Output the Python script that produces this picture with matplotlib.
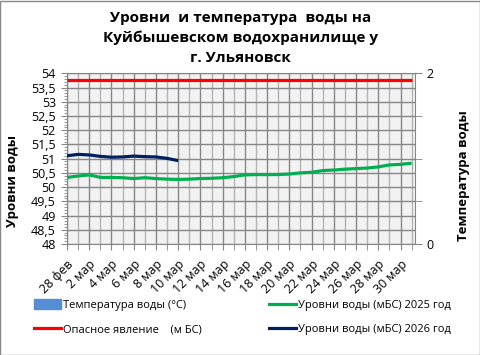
import numpy as np
import matplotlib
matplotlib.use('Agg')
import matplotlib.pyplot as plt
import matplotlib.ticker as ticker
from matplotlib.patches import Patch, Rectangle
from matplotlib.lines import Line2D

plt.rcParams['font.family'] = ['Open Sans', 'DejaVu Sans']

# categories: 28 фев .. 31 мар
days = ['28 фев'] + [f'{d} мар' for d in range(1, 32)]

# levels (m BS)
level_2025 = [50.34, 50.39, 50.43, 50.34, 50.34, 50.33, 50.30, 50.33, 50.30, 50.28,
              50.27, 50.28, 50.30, 50.31, 50.33, 50.37, 50.43, 50.44, 50.44, 50.44,
              50.46, 50.50, 50.52, 50.58, 50.60, 50.63, 50.65, 50.67, 50.71, 50.78,
              50.80, 50.84]
level_2026 = [51.10, 51.15, 51.13, 51.08, 51.05, 51.06, 51.09, 51.07, 51.06, 51.01, 50.93]
danger = [53.75] * len(days)
temperature = []  # no data yet

fig = plt.figure(figsize=(4.81, 3.55), dpi=100)
ax = fig.add_axes([0.1393, 0.3127, 0.7235, 0.4808])
ax.set_facecolor('#F2F2F2')

x = np.arange(len(days))
ax.plot(x, danger, color='#FF0000', lw=2.3, solid_capstyle='butt', zorder=3)
ax.plot(x, level_2025, color='#00B050', lw=2.3, solid_capstyle='butt', zorder=3)
ax.plot(x[:len(level_2026)], level_2026, color='#002060', lw=2.3, solid_capstyle='butt', zorder=4)

ax.set_xlim(0, 31.3)
ax.set_ylim(48, 54)
ax.yaxis.set_major_locator(ticker.MultipleLocator(0.5))
ax.yaxis.set_minor_locator(ticker.MultipleLocator(0.1))
ax.yaxis.set_major_formatter(ticker.FuncFormatter(lambda v, p: f'{v:g}'.replace('.', ',')))

ax.set_xticks(x[::2])
ax.set_xticklabels(days[::2], rotation=45, ha='right', rotation_mode='anchor')
ax.set_xticks(x[1::2], minor=True)

ax.grid(True, which='major', color='#868686', lw=1)
ax.grid(True, which='minor', axis='x', color='#B4B4B4', lw=1)
ax.set_axisbelow(True)

ax.tick_params(axis='y', which='major', labelsize=9, length=4, color='#868686', pad=4)
ax.tick_params(axis='x', which='major', labelsize=9, length=4, color='#868686', pad=6)
ax.tick_params(axis='y', which='minor', length=2.5, color='#868686')
ax.tick_params(axis='x', which='minor', length=4, color='#868686')
for s in ax.spines.values():
    s.set_color('#868686')

ax.set_ylabel('Уровни воды', fontsize=9.5, fontweight='bold')
ax.yaxis.set_label_coords(-0.138, 0.369)

ax2 = ax.twinx()
ax2.bar(np.arange(len(temperature)), temperature, color='#558ED5')
ax2.set_ylim(0, 2)
ax2.set_yticks([0, 2])
ax2.set_yticks([0.5, 1, 1.5], minor=True)
ax2.tick_params(axis='y', which='both', labelsize=9, length=5, color='#868686', pad=3)
for s in ax2.spines.values():
    s.set_visible(False)
ax2.set_ylabel('Температура воды', fontsize=9.5, fontweight='bold')
ax2.yaxis.set_label_coords(1.12, 0.398)

fig.text(0.5, 0.969, 'Уровни  и температура  воды на\nКуйбышевском водохранилище у\nг. Ульяновск',
         ha='center', va='top', fontsize=11, fontweight='bold', linespacing=1.5)

handles = [Patch(color='#558ED5'),
           Line2D([], [], color='#FF0000', lw=2.3),
           Line2D([], [], color='#00B050', lw=2.3),
           Line2D([], [], color='#002060', lw=2.3)]
labels = ['Температура воды (°C)', 'Опасное явление    (м БС)',
          'Уровни воды (мБС) 2025 год', 'Уровни воды (мБС) 2026 год']
fig.legend(handles, labels, ncol=2, loc='upper left', bbox_to_anchor=(0.05, 0.185),
           frameon=False, fontsize=8, handlelength=2.4, handleheight=0.9,
           handletextpad=0.2, columnspacing=6.05, labelspacing=1.17)

fig.patches.append(Rectangle((0.001, 0.001), 0.997, 0.996, transform=fig.transFigure,
                             fill=False, edgecolor='#888888', lw=1))

fig.savefig('out.png', dpi=100)
